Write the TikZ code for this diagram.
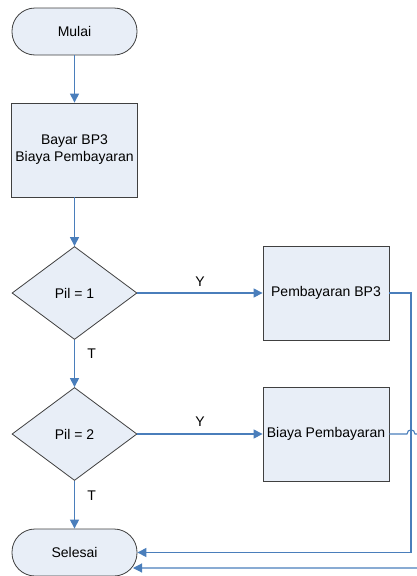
\documentclass[tikz,border=0pt]{standalone}
\usepackage{fontspec}
\setmainfont{Liberation Sans}
\usetikzlibrary{shapes.geometric,arrows.meta}
\definecolor{boxfill}{HTML}{E8EEF7}
\definecolor{linkblue}{HTML}{4A7EBB}
\definecolor{edge}{HTML}{404040}
\begin{document}
\begin{tikzpicture}[x=1pt,y=-1pt,
  font=\fontsize{14}{17}\selectfont,
  blk/.style={draw=edge, fill=boxfill, line width=0.8pt, align=center, inner sep=0pt},
  terminal/.style={blk, rectangle, rounded corners=23pt, minimum width=125pt, minimum height=47pt},
  process/.style={blk, rectangle, minimum width=126pt, minimum height=94pt},
  decision/.style={blk, diamond, minimum width=125pt, minimum height=93pt},
  conn/.style={draw=linkblue, line width=1.1pt, -{Triangle[length=9pt,width=9pt]}},
  lbl/.style={text=black}]
\useasboundingbox (0,0) rectangle (417,576);

% nodes
\node[terminal] (mulai) at (74.5,31.5) {Mulai};
\node[process] (bayar) at (74.5,150) {Bayar BP3\\Biaya Pembayaran};
\node[decision] (pil1) at (74.5,293) {Pil = 1};
\node[process] (bp3) at (326,293) {Pembayaran BP3};
\node[decision] (pil2) at (74.5,434) {Pil = 2};
\node[process] (biaya) at (326,434) {Biaya Pembayaran};
\node[terminal] (selesai) at (74.5,552.5) {Selesai};
\coordinate (selesaiLow) at (133,568);

% main flow
\draw[conn] (mulai) -- (bayar);
\draw[conn] (bayar) -- (pil1);
\draw[conn] (pil1) -- node[lbl, above=3pt] {Y} (bp3);
\draw[conn] (pil1) -- node[lbl, pos=0.3, right=9pt] {T} (pil2);
\draw[conn] (pil2) -- node[lbl, above=4pt] {Y} (biaya);
\draw[conn] (pil2) -- node[lbl, pos=0.3, right=9pt] {T} (selesai);

% returns to the end terminal
\draw[conn] (bp3.east) -- (411,293) |- (selesai.east);
\draw[conn] (biaya.east) -- (407,434)
  .. controls (407,428.5) and (415,428.5) .. (415,434)
  -- (425,434) |- (selesaiLow);
\end{tikzpicture}
\end{document}
